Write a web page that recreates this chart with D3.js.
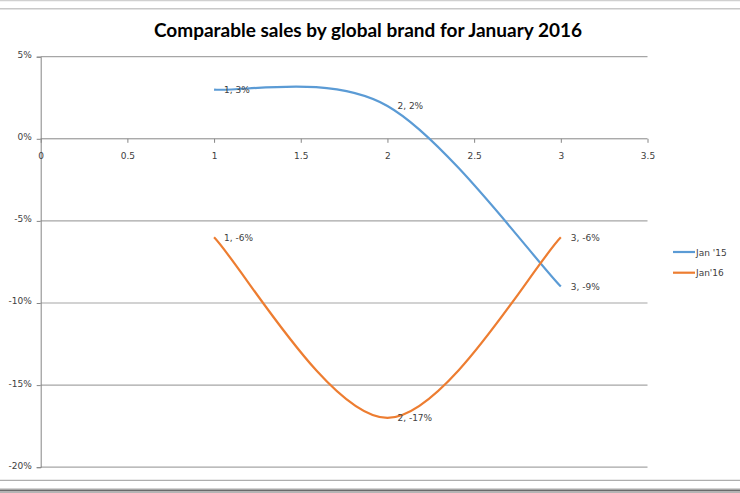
<!DOCTYPE html>
<html><head><meta charset="utf-8">
<script src="https://cdn.jsdelivr.net/npm/d3@7"></script>
<style>html,body{margin:0;padding:0;background:#fff;}svg{display:block;}</style>
</head><body>
<svg id="chart" width="740" height="493"></svg>
<script>
const title = "Comparable sales by global brand for January 2016";
const xValues = [1, 2, 3];
const seriesNames = ["Jan '15", "Jan'16"];
const jan15 = [3, 2, -9];
const jan16 = [-6, -17, -6];
const seriesColors = ["#5B9BD5", "#ED7D31"];
const xTicks = [0, 0.5, 1, 1.5, 2, 2.5, 3, 3.5];
const yTicks = [5, 0, -5, -10, -15, -20];

const svg = d3.select("#chart");
const x = d3.scaleLinear().domain([0, 3.5]).range([40.7, 647.5]);
const y = d3.scaleLinear().domain([5, -20]).range([56.7, 467.2]);

// Excel-style smoothed curve: Catmull-Rom Bezier with endpoints duplicated as neighbours
function ExcelSmooth(context) { this._context = context; }
ExcelSmooth.prototype = {
  areaStart() { this._line = 0; },
  areaEnd() { this._line = NaN; },
  lineStart() { this._pts = []; },
  lineEnd() {
    const p = this._pts, c = this._context, n = p.length;
    if (n) {
      this._line ? c.lineTo(p[0][0], p[0][1]) : c.moveTo(p[0][0], p[0][1]);
      for (let i = 0; i < n - 1; i++) {
        const p0 = p[Math.max(0, i - 1)], p1 = p[i], p2 = p[i + 1], p3 = p[Math.min(n - 1, i + 2)];
        c.bezierCurveTo(
          p1[0] + (p2[0] - p0[0]) / 6, p1[1] + (p2[1] - p0[1]) / 6,
          p2[0] - (p3[0] - p1[0]) / 6, p2[1] - (p3[1] - p1[1]) / 6,
          p2[0], p2[1]);
      }
    }
    this._line = 1 - this._line;
  },
  point(px, py) { this._pts.push([+px, +py]); }
};
const excelSmooth = context => new ExcelSmooth(context);

// frame lines
svg.append("line").attr("x1",0).attr("x2",740).attr("y1",0.5).attr("y2",0.5).attr("stroke","#d0d0d0").attr("stroke-width",1.5);
svg.append("line").attr("x1",0).attr("x2",740).attr("y1",8.7).attr("y2",8.7).attr("stroke","#c8c8c8").attr("stroke-width",1.5);
svg.append("line").attr("x1",0).attr("x2",740).attr("y1",480.3).attr("y2",480.3).attr("stroke","#9a9a9a").attr("stroke-width",1);
svg.append("rect").attr("x",0).attr("y",488.5).attr("width",740).attr("height",1.2).attr("fill","#a8a8a8");
svg.append("rect").attr("x",0).attr("y",489.7).attr("width",740).attr("height",1.8).attr("fill","#6a6a6a");
svg.append("rect").attr("x",0).attr("y",491.5).attr("width",740).attr("height",1.5).attr("fill","#b4b4b4");

// title
svg.append("text").attr("x",368).attr("y",37).attr("text-anchor","middle")
  .attr("font-family","Lato, 'Open Sans', sans-serif").attr("font-weight","bold").attr("font-size",19)
  .attr("fill","#000").text(title);

// gridlines
svg.append("g").selectAll("line").data(yTicks.filter(d => d !== 0)).join("line")
  .attr("x1", x(0)).attr("x2", x(3.5)).attr("y1", d => y(d)).attr("y2", d => y(d))
  .attr("stroke", "#a6a6a6").attr("stroke-width", 1.2);

// y axis
const yAxis = d3.axisLeft(y).tickValues(yTicks).tickSize(4).tickPadding(4).tickFormat(d => d + "%");
const gy = svg.append("g").attr("transform", `translate(${x(0)},0)`).call(yAxis);
gy.select(".domain").attr("stroke", "#868686");
gy.selectAll(".tick line").attr("stroke", "#868686");
gy.selectAll("text").attr("font-family","'DejaVu Sans', sans-serif").attr("font-size",9).attr("fill","#404040").attr("x",-9).attr("dy","0.1em");

// x axis at y=0
const xAxis = d3.axisBottom(x).tickValues(xTicks).tickSize(4).tickPadding(10).tickFormat(d3.format("~g"));
const gx = svg.append("g").attr("transform", `translate(0,${y(0)})`).call(xAxis);
gx.select(".domain").attr("stroke", "#868686").attr("d", `M${x(0)},0H${x(3.5)}`);
gx.selectAll(".tick line").attr("stroke", "#868686");
gx.selectAll("text").attr("font-family","'DejaVu Sans', sans-serif").attr("font-size",9).attr("fill","#404040");

// series
const series = [jan15, jan16];
const line = d3.line().x(d => x(d[0])).y(d => y(d[1])).curve(excelSmooth);
series.forEach((vals, i) => {
  const pts = xValues.map((xv, j) => [xv, vals[j]]);
  svg.append("path").attr("d", line(pts)).attr("fill","none").attr("stroke", seriesColors[i]).attr("stroke-width", 2.2);
  svg.append("g").selectAll("text").data(pts).join("text")
    .attr("x", d => x(d[0]) + 10).attr("y", d => y(d[1]) + 3.5)
    .attr("font-family","'DejaVu Sans', sans-serif").attr("font-size",9).attr("fill","#404040")
    .text(d => `${d[0]}, ${d[1]}%`);
});

// legend
const legend = svg.append("g");
seriesNames.forEach((name, i) => {
  const ly = 252 + i * 20.7;
  legend.append("line").attr("x1",673).attr("x2",695).attr("y1",ly).attr("y2",ly).attr("stroke",seriesColors[i]).attr("stroke-width",2.2);
  legend.append("text").attr("x",696).attr("y",ly+3.5).attr("font-family","'DejaVu Sans', sans-serif").attr("font-size",9).attr("fill","#404040").text(name);
});
</script>
</body></html>
